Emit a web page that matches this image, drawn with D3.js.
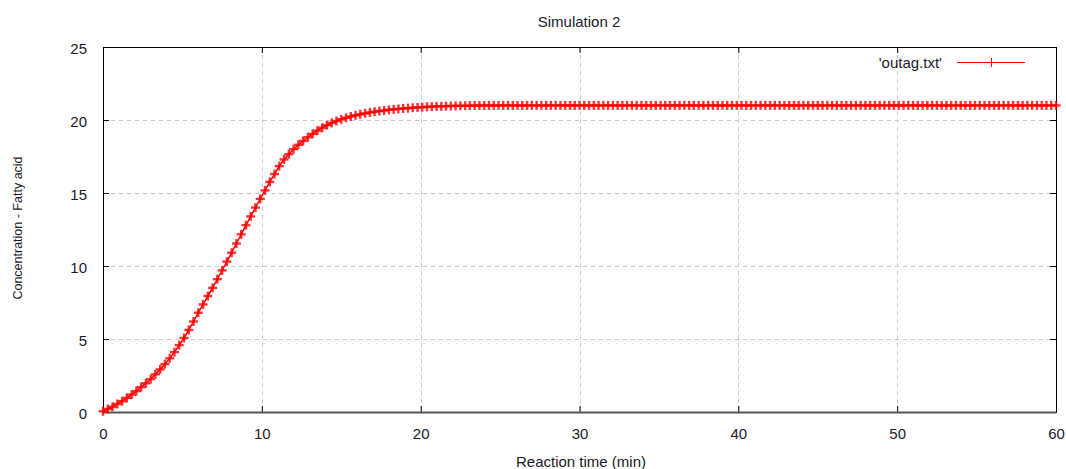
<!DOCTYPE html>
<html><head><meta charset="utf-8">
<script src="https://cdn.jsdelivr.net/npm/d3@7"></script>
<style>body{margin:0;background:#fff;}svg{display:block;font-family:"Liberation Sans",Arial,sans-serif;}</style>
</head><body>
<svg id="c" width="1066" height="469"></svg>
<script>
const title = "Simulation 2";
const xLabel = "Reaction time (min)";
const yLabel = "Concentration - Fatty acid";
const seriesName = "'outag.txt'";
const xTicks = [0, 10, 20, 30, 40, 50, 60];
const yTicks = [0, 5, 10, 15, 20, 25];
const times = [
 0,0.3,0.6,0.9,1.2,1.5,1.8,2.1,2.4,2.7,3,3.3,3.6,3.9,4.2,4.5,4.8,5.1,5.4,5.7,
 6,6.3,6.6,6.9,7.2,7.5,7.8,8.1,8.4,8.7,9,9.3,9.6,9.9,10.2,10.5,10.8,11.1,11.4,11.7,
 12,12.3,12.6,12.9,13.2,13.5,13.8,14.1,14.4,14.7,15,15.3,15.6,15.9,16.2,16.5,16.8,17.1,17.4,17.7,
 18,18.3,18.6,18.9,19.2,19.5,19.8,20.1,20.4,20.7,21,21.3,21.6,21.9,22.2,22.5,22.8,23.1,23.4,23.7,
 24,24.3,24.6,24.9,25.2,25.5,25.8,26.1,26.4,26.7,27,27.3,27.6,27.9,28.2,28.5,28.8,29.1,29.4,29.7,
 30,30.3,30.6,30.9,31.2,31.5,31.8,32.1,32.4,32.7,33,33.3,33.6,33.9,34.2,34.5,34.8,35.1,35.4,35.7,
 36,36.3,36.6,36.9,37.2,37.5,37.8,38.1,38.4,38.7,39,39.3,39.6,39.9,40.2,40.5,40.8,41.1,41.4,41.7,
 42,42.3,42.6,42.9,43.2,43.5,43.8,44.1,44.4,44.7,45,45.3,45.6,45.9,46.2,46.5,46.8,47.1,47.4,47.7,
 48,48.3,48.6,48.9,49.2,49.5,49.8,50.1,50.4,50.7,51,51.3,51.6,51.9,52.2,52.5,52.8,53.1,53.4,53.7,
 54,54.3,54.6,54.9,55.2,55.5,55.8,56.1,56.4,56.7,57,57.3,57.6,57.9,58.2,58.5,58.8,59.1,59.4,59.7,
 60
];
const concentration = [
 0.05,0.2,0.36,0.55,0.74,0.96,1.19,1.43,1.7,1.97,2.25,2.58,2.92,3.28,3.68,4.1,4.58,5.07,5.62,6.2,
 6.8,7.37,7.94,8.5,9.1,9.7,10.3,10.91,11.54,12.17,12.8,13.4,14.0,14.6,15.18,15.76,16.3,16.84,17.3,17.66,
 18.0,18.3,18.56,18.82,19.05,19.27,19.47,19.65,19.8,19.93,20.05,20.15,20.24,20.32,20.39,20.46,20.52,20.57,20.61,20.65,
 20.7,20.73,20.76,20.79,20.81,20.84,20.86,20.88,20.9,20.92,20.93,20.94,20.95,20.96,20.97,20.97,20.98,20.98,20.99,20.99,
 20.99,21,21,21,21,21,21,21,21,21,21,21,21,21,21,21,21,21,21,21,
 21,21,21,21,21,21,21,21,21,21,21,21,21,21,21,21,21,21,21,21,
 21,21,21,21,21,21,21,21,21,21,21,21,21,21,21,21,21,21,21,21,
 21,21,21,21,21,21,21,21,21,21,21,21,21,21,21,21,21,21,21,21,
 21,21,21,21,21,21,21,21,21,21,21,21,21,21,21,21,21,21,21,21,
 21,21,21,21,21,21,21,21,21,21,21,21,21,21,21,21,21,21,21,21,
 21
];
const data = times.map((t, i) => ({t, v: concentration[i]}));

const svg = d3.select("#c");
const m = {l: 103, r: 1056, t: 47, b: 412};
const x = d3.scaleLinear().domain([0, 60]).range([m.l, m.r]);
const y = d3.scaleLinear().domain([0, 25]).range([m.b, m.t]);
const W = m.r - m.l, H = m.b - m.t;
const txt = "#1a1a2a";
const fs = 15;

// grid
const grid = svg.append("g").attr("stroke", "#c8c8c8").attr("stroke-width", 1).attr("stroke-dasharray", "4,4");
xTicks.slice(1, -1).forEach(t => grid.append("line").attr("x1", Math.round(x(t))+0.5).attr("x2", Math.round(x(t))+0.5).attr("y1", m.t).attr("y2", m.b));
yTicks.slice(1, -1).forEach(t => grid.append("line").attr("y1", Math.round(y(t))+0.5).attr("y2", Math.round(y(t))+0.5).attr("x1", m.l).attr("x2", m.r));

// axes with inner ticks (mirrored)
const fmt = d3.format("d");
const gB = svg.append("g").attr("transform", `translate(0,${m.b})`)
  .call(d3.axisBottom(x).tickValues(xTicks).tickSize(-6).tickPadding(16).tickFormat(fmt));
const gT = svg.append("g").attr("transform", `translate(0,${m.t})`)
  .call(d3.axisTop(x).tickValues(xTicks).tickSize(-6).tickFormat(""));
const gL = svg.append("g").attr("transform", `translate(${m.l},0)`)
  .call(d3.axisLeft(y).tickValues(yTicks).tickSize(-6).tickPadding(16).tickFormat(fmt));
const gR = svg.append("g").attr("transform", `translate(${m.r},0)`)
  .call(d3.axisRight(y).tickValues(yTicks).tickSize(-6).tickFormat(""));
[gB, gT, gL, gR].forEach(g => {
  g.select(".domain").remove();
  g.selectAll(".tick line").attr("stroke", "#000");
  g.selectAll("text").attr("font-size", fs).attr("fill", txt).attr("font-family", "Liberation Sans, Arial, sans-serif");
});
gL.selectAll("text").attr("dy", "0.45em");

// frame
svg.append("rect").attr("x", m.l + 0.5).attr("y", m.t + 0.5).attr("width", W).attr("height", H)
  .attr("fill", "none").attr("stroke", "#000").attr("stroke-width", 1);
svg.append("line").attr("x1", m.l).attr("x2", m.r).attr("y1", m.b + 0.5).attr("y2", m.b + 0.5).attr("stroke", "#555").attr("stroke-width", 2);

// series line + markers
const red = "#ff0000";
svg.append("path").datum(data)
  .attr("d", d3.line().x(d => x(d.t)).y(d => y(d.v)))
  .attr("fill", "none").attr("stroke", red).attr("stroke-width", 1.5);
const mk = svg.append("g").attr("stroke", red).attr("stroke-width", 2.4).attr("stroke-opacity", 0.8);
data.forEach(d => {
  const cx = x(d.t), cy = y(d.v);
  mk.append("line").attr("x1", cx - 4.5).attr("x2", cx + 4.5).attr("y1", cy).attr("y2", cy);
  mk.append("line").attr("x1", cx).attr("x2", cx).attr("y1", cy - 4.5).attr("y2", cy + 4.5);
});

// legend
svg.append("text").attr("x", 942).attr("y", 68).attr("text-anchor", "end")
  .attr("font-size", fs).attr("fill", txt).text(seriesName);
svg.append("line").attr("x1", 957).attr("x2", 1025).attr("y1", 62.5).attr("y2", 62.5).attr("stroke", red).attr("stroke-width", 1);
svg.append("line").attr("x1", 991.5).attr("x2", 991.5).attr("y1", 58).attr("y2", 67).attr("stroke", red).attr("stroke-width", 1);

// titles
svg.append("text").attr("x", 579).attr("y", 27).attr("text-anchor", "middle")
  .attr("font-size", fs).attr("fill", txt).text(title);
svg.append("text").attr("x", 581).attr("y", 467).attr("text-anchor", "middle")
  .attr("font-size", fs).attr("fill", txt).text(xLabel);
svg.append("text").attr("transform", "translate(22,228) rotate(-90)").attr("text-anchor", "middle")
  .attr("font-size", 12.5).attr("fill", txt).text(yLabel);
</script>
</body></html>
